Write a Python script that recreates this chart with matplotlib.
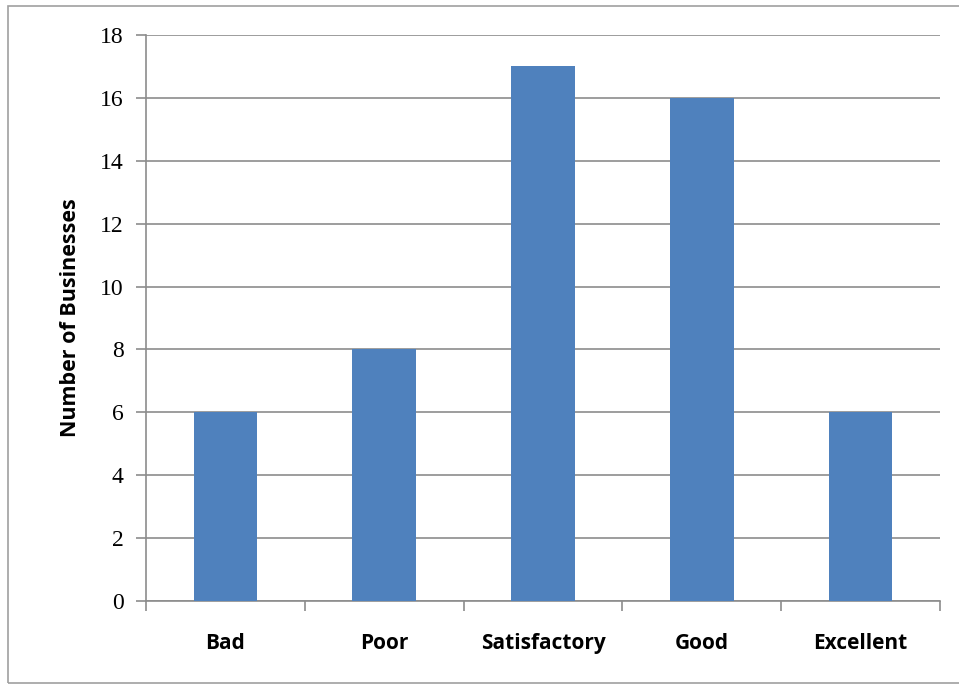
import numpy as np
import matplotlib
matplotlib.use("Agg")
import matplotlib.pyplot as plt
from matplotlib.patches import Rectangle

categories = ["Bad", "Poor", "Satisfactory", "Good", "Excellent"]
counts = [6, 8, 17, 16, 6]
yticks = [0, 2, 4, 6, 8, 10, 12, 14, 16, 18]

grey = "#8c8c8c"
fig = plt.figure(figsize=(9.59, 6.85), dpi=100)
# outer chart border
fig.patches.append(Rectangle((8 / 959, 2 / 685), 1.2, 677 / 685, transform=fig.transFigure,
                             fill=False, edgecolor="#a0a0a0", linewidth=1.2))
ax = fig.add_axes([146 / 959, 1 - 601 / 685, (940 - 146) / 959, (601 - 35) / 685])

x = np.arange(len(categories))
ax.bar(x, counts, width=0.4, color="#4F81BD", zorder=3)
ax.set_xlim(-0.5, len(categories) - 0.5)
ax.set_ylim(0, 18)
ax.set_yticks(yticks)
ax.set_yticklabels([str(v) for v in yticks], fontsize=17, family="Liberation Serif")
ax.yaxis.grid(True, color=grey, linewidth=1.2, zorder=0)
ax.tick_params(axis="y", length=7, width=1.2, color=grey, pad=9)

# category ticks sit between the bars
ax.set_xticks(np.arange(len(categories) + 1) - 0.5)
ax.set_xticklabels([])
ax.set_xticks(x, minor=True)
ax.set_xticklabels(categories, minor=True, fontsize=15, family="Open Sans", fontweight="bold")
ax.tick_params(axis="x", which="major", length=7, width=1.2, color=grey)
ax.tick_params(axis="x", which="minor", length=0, pad=23)

for s in ["top", "right"]:
    ax.spines[s].set_visible(False)
for s in ["left", "bottom"]:
    ax.spines[s].set_color(grey)
    ax.spines[s].set_linewidth(1.2)

ax.set_ylabel("Number of Businesses", fontsize=15.5, family="Open Sans", fontweight="bold",
              labelpad=14)

fig.savefig("out.png", dpi=100)
